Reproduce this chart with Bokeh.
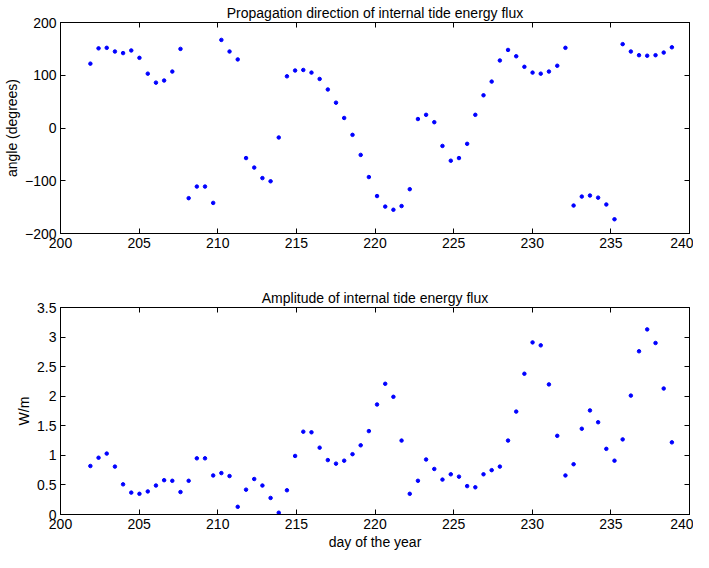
from bokeh.plotting import figure
from bokeh.layouts import column
from bokeh.models import LinearAxis, FixedTicker, Range1d
from bokeh.embed import file_html
from bokeh.resources import INLINE

# ---- data ----
days = [201.90, 202.42, 202.94, 203.46, 203.98, 204.50, 205.02, 205.55, 206.07, 206.59,
        207.11, 207.63, 208.15, 208.67, 209.19, 209.71, 210.23, 210.75, 211.27, 211.80,
        212.32, 212.84, 213.36, 213.88, 214.40, 214.92, 215.44, 215.96, 216.48, 217.00,
        217.52, 218.04, 218.57, 219.09, 219.61, 220.13, 220.65, 221.17, 221.69, 222.21,
        222.73, 223.25, 223.77, 224.29, 224.82, 225.34, 225.86, 226.38, 226.90, 227.42,
        227.94, 228.46, 228.98, 229.50, 230.02, 230.54, 231.06, 231.59, 232.11, 232.63,
        233.15, 233.67, 234.19, 234.71, 235.23, 235.75, 236.27, 236.79, 237.31, 237.84,
        238.36, 238.88]

angle = [122, 151, 152, 145, 142, 147, 133, 103, 86, 90,
         107, 150, -133, -111, -111, -142, 167, 145, 130, -57,
         -75, -95, -101, -18, 98, 109, 110, 105, 93, 73,
         48, 19, -13, -51, -93, -129, -149, -155, -148, -116,
         17, 25, 11, -34, -62, -57, -30, 25, 62, 88,
         128, 148, 136, 116, 105, 103, 107, 118, 152, -147,
         -130, -128, -132, -145, -173, 159, 145, 138, 137, 138,
         143, 153]

amplitude = [0.82, 0.96, 1.03, 0.81, 0.51, 0.37, 0.35, 0.39, 0.49, 0.58,
             0.57, 0.38, 0.57, 0.95, 0.95, 0.66, 0.70, 0.65, 0.13, 0.42,
             0.60, 0.49, 0.28, 0.03, 0.41, 0.99, 1.40, 1.39, 1.13, 0.92,
             0.86, 0.91, 1.02, 1.17, 1.41, 1.86, 2.21, 1.99, 1.25, 0.35,
             0.57, 0.93, 0.77, 0.59, 0.68, 0.64, 0.48, 0.46, 0.68, 0.75,
             0.81, 1.25, 1.74, 2.38, 2.91, 2.86, 2.20, 1.33, 0.66, 0.85,
             1.45, 1.76, 1.56, 1.11, 0.91, 1.27, 2.01, 2.76, 3.13, 2.90,
             2.13, 1.22]

x_ticks = [200, 205, 210, 215, 220, 225, 230, 235, 240]
angle_ticks = [-200, -100, 0, 100, 200]
angle_tick_labels = ["\u2212200", "\u2212100", "0", "100", "200"]
amp_ticks = [0, 0.5, 1, 1.5, 2, 2.5, 3, 3.5]
amp_tick_labels = ["0", "0.5", "1", "1.5", "2", "2.5", "3", "3.5"]

title_top = "Propagation direction of internal tide energy flux"
title_bottom = "Amplitude of internal tide energy flux"
ylabel_top = "angle (degrees)"
ylabel_bottom = "W/m"
xlabel_bottom = "day of the year"

FONT = "Liberation Sans"
FS = "14px"


def style_axis(ax, ticks, labels=None, show_labels=True):
    ax.ticker = FixedTicker(ticks=ticks)
    ax.axis_line_color = "black"
    ax.axis_line_width = 1
    ax.major_tick_line_color = "black"
    ax.major_tick_in = 5
    ax.major_tick_out = 0
    ax.minor_tick_line_color = None
    ax.major_label_text_font = FONT
    ax.major_label_text_color = "black"
    if show_labels:
        ax.major_label_text_font_size = FS
        ax.major_label_standoff = 4
        if labels is not None:
            ax.major_label_overrides = {t: l for t, l in zip(ticks, labels)}
    else:
        ax.major_label_text_color = None
        ax.major_label_text_alpha = 0
        ax.major_label_text_font_size = "1px"
        ax.major_label_standoff = 0
    ax.axis_label_text_font = FONT
    ax.axis_label_text_font_size = FS
    ax.axis_label_text_font_style = "normal"
    ax.axis_label_text_color = "black"
    ax.axis_label_standoff = 2


def make(title, ylabel, yr, yticks, ylabels, xlabel, height, bt, bb):
    p = figure(width=693, height=height, output_backend="svg", toolbar_location=None,
               x_range=Range1d(200, 240), y_range=Range1d(*yr),
               min_border_left=57, min_border_right=4,
               min_border_top=bt, min_border_bottom=bb, title=title)
    p.title.align = "center"
    p.title.text_font = FONT
    p.title.text_font_size = FS
    p.title.text_font_style = "normal"
    p.title.text_color = "black"
    p.title.standoff = 4
    p.grid.visible = False
    p.outline_line_color = "black"
    p.background_fill_color = "white"
    p.border_fill_color = "white"
    style_axis(p.xaxis[0], x_ticks)
    style_axis(p.yaxis[0], yticks, ylabels)
    p.yaxis[0].axis_label = ylabel
    if xlabel:
        p.xaxis[0].axis_label = xlabel
    top = LinearAxis()
    style_axis(top, x_ticks, show_labels=False)
    right = LinearAxis()
    style_axis(right, yticks, show_labels=False)
    p.add_layout(top, "above")
    p.add_layout(right, "right")
    return p


p1 = make(title_top, ylabel_top, (-200, 200), angle_ticks, angle_tick_labels, None, 270, 22, 37)
p1.scatter(days, angle, size=3.5, color="blue", line_color="blue")

p2 = make(title_bottom, ylabel_bottom, (0, 3.5), amp_ticks, amp_tick_labels, xlabel_bottom, 282, 37, 35)
p2.scatter(days, amplitude, size=3.5, color="blue", line_color="blue")

layout = column(p1, p2, spacing=0)
open("out.html", "w").write(file_html(layout, INLINE))
